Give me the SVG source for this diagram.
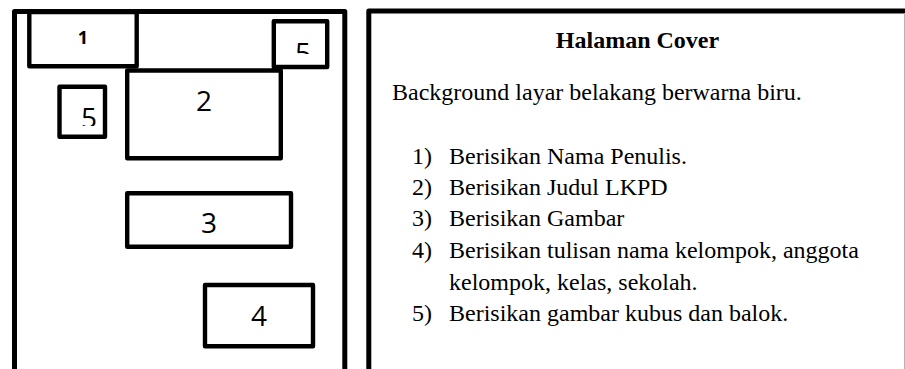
<svg xmlns="http://www.w3.org/2000/svg" width="905" height="369" viewBox="0 0 905 369">
<style>
.frame{fill:none;stroke:#000;stroke-width:5;stroke-linejoin:round}
.box{fill:#fff;stroke:#000;stroke-width:4.4;stroke-linejoin:round}
.num{font-family:"Open Sans","Liberation Sans",sans-serif;font-size:28px;fill:#000;text-anchor:middle}
.small{font-family:"Open Sans","Liberation Sans",sans-serif;font-size:18px;font-weight:bold;fill:#000;text-anchor:middle}
.t{font-family:"Liberation Serif","Times New Roman",serif;font-size:24px;fill:#000}
</style>
<defs>
<clipPath id="clipTR"><rect x="276" y="23" width="49" height="31"/></clipPath>
<clipPath id="clipL"><rect x="62" y="89" width="41" height="37"/></clipPath>
</defs>
<rect x="0" y="0" width="905" height="369" fill="#fff"/>
<g id="layout-frame">
<rect class="frame" x="14.5" y="11.5" width="330.3" height="400"/>
</g>
<g id="node-1">
<rect class="box" x="29.3" y="12" width="107.4" height="54.3"/>
<text class="small" x="83" y="44">1</text>
</g>
<g id="node-5-top">
<rect class="box" x="273.8" y="21.2" width="53.4" height="45.8"/>
<text class="num" x="303" y="63" clip-path="url(#clipTR)">5</text>
</g>
<g id="node-2">
<rect class="box" x="127.2" y="70.5" width="153.6" height="87.7"/>
<text class="num" x="204" y="111">2</text>
</g>
<g id="node-5-left">
<rect class="box" x="59.5" y="86.7" width="45.5" height="50"/>
<text class="num" x="89" y="128" clip-path="url(#clipL)">5</text>
</g>
<g id="node-3">
<rect class="box" x="127.2" y="193.2" width="163.8" height="53.5"/>
<text class="num" x="209" y="233">3</text>
</g>
<g id="node-4">
<rect class="box" x="205" y="285" width="108" height="61.2"/>
<text class="num" x="259" y="326">4</text>
</g>
<g id="description">
<rect class="frame" x="368.8" y="11" width="600" height="400" stroke-width="5.5"/>
<rect x="904" y="13" width="1" height="356" fill="#b4b4b4"/>
<text class="t" x="637.5" y="48" font-weight="bold" font-size="23.5" text-anchor="middle">Halaman Cover</text>
<text class="t" x="392" y="100">Background layar belakang berwarna biru.</text>
<text class="t" x="412" y="164">1)</text>
<text class="t" x="449" y="164">Berisikan Nama Penulis.</text>
<text class="t" x="412" y="195">2)</text>
<text class="t" x="449" y="195">Berisikan Judul LKPD</text>
<text class="t" x="412" y="226">3)</text>
<text class="t" x="449" y="226">Berisikan Gambar</text>
<text class="t" x="412" y="258">4)</text>
<text class="t" x="449" y="258">Berisikan tulisan nama kelompok, anggota</text>
<text class="t" x="449" y="290">kelompok, kelas, sekolah.</text>
<text class="t" x="412" y="321">5)</text>
<text class="t" x="449" y="321">Berisikan gambar kubus dan balok.</text>
</g>
</svg>
